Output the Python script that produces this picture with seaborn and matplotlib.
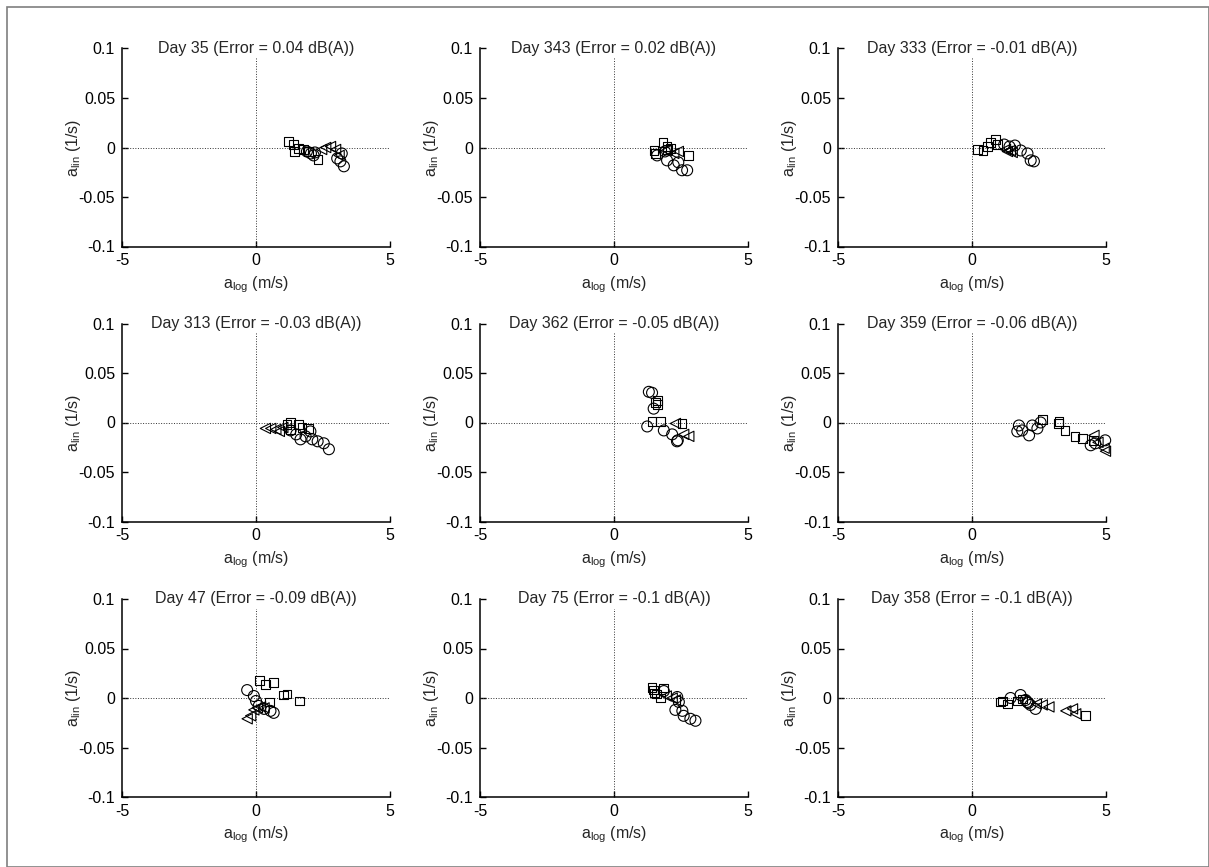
import matplotlib
matplotlib.use("Agg")
import matplotlib.pyplot as plt
import seaborn as sns
import pandas as pd
from matplotlib.patches import Rectangle

# ---------------- data ----------------
days = [35, 343, 333, 313, 362, 359, 47, 75, 358]
errors = ["0.04", "0.02", "-0.01", "-0.03", "-0.05", "-0.06", "-0.09", "-0.1", "-0.1"]

sq_x = [[1.22, 1.41, 1.44, 1.6, 1.78, 1.95, 2.31],
        [1.49, 1.55, 1.83, 1.98, 2.0, 2.1, 2.79],
        [0.2, 0.41, 0.57, 0.7, 0.88, 0.95],
        [1.16, 1.29, 1.3, 1.6, 1.72, 1.97],
        [1.61, 1.61, 1.55, 1.42, 1.74, 2.54],
        [2.62, 3.22, 3.25, 3.47, 3.84, 4.12, 4.52],
        [0.14, 0.35, 0.66, 1.04, 1.16, 1.63, 0.51],
        [1.42, 1.48, 1.6, 1.86, 1.74, 1.52],
        [1.07, 1.15, 1.32, 1.69, 1.87, 4.24]]
sq_y = [[0.006, 0.003, -0.004, -0.001, -0.002, -0.004, -0.012],
        [-0.003, -0.006, 0.005, 0.001, -0.002, -0.001, -0.008],
        [-0.002, -0.003, 0.001, 0.005, 0.008, 0.003],
        [-0.002, -0.007, 0.0, -0.002, -0.005, -0.006],
        [0.022, 0.018, 0.020, 0.001, 0.001, -0.001],
        [0.003, -0.001, 0.001, -0.008, -0.014, -0.016, -0.018],
        [0.018, 0.014, 0.016, 0.003, 0.004, -0.003, -0.004],
        [0.011, 0.008, 0.004, 0.010, 0.0, 0.005],
        [-0.004, -0.003, -0.006, -0.003, -0.001, -0.018]]

ci_x = [[1.9, 2.05, 2.15, 2.2, 3.03, 3.15, 3.2, 3.28],
        [1.61, 1.9, 1.98, 2.23, 2.4, 2.54, 2.73],
        [1.2, 1.4, 1.6, 1.82, 2.07, 2.19, 2.31],
        [1.29, 1.5, 1.66, 1.85, 2.03, 2.1, 2.3, 2.53, 2.72],
        [1.3, 1.42, 1.48, 1.24, 1.86, 2.17, 2.38, 2.35],
        [1.75, 1.69, 1.87, 2.13, 2.25, 2.44, 2.56, 4.43, 4.6, 4.97],
        [-0.33, -0.08, 0.0, 0.1, 0.3, 0.54, 0.66],
        [1.86, 2.36, 2.42, 2.29, 2.55, 2.6, 2.85, 3.04],
        [1.44, 1.81, 2.0, 2.06, 2.18, 2.37, 2.1]]
ci_y = [[-0.004, -0.006, -0.008, -0.005, -0.011, -0.014, -0.006, -0.019],
        [-0.008, -0.004, -0.013, -0.018, -0.015, -0.023, -0.023],
        [0.003, 0.001, 0.002, -0.003, -0.006, -0.013, -0.014],
        [-0.008, -0.012, -0.017, -0.014, -0.009, -0.017, -0.019, -0.021, -0.027],
        [0.031, 0.030, 0.014, -0.004, -0.008, -0.012, -0.018, -0.019],
        [-0.003, -0.009, -0.008, -0.013, -0.003, -0.006, 0.0, -0.023, -0.021, -0.018],
        [0.008, 0.002, -0.003, -0.008, -0.011, -0.013, -0.015],
        [0.007, 0.001, -0.004, -0.012, -0.013, -0.018, -0.021, -0.023],
        [0.0, 0.003, -0.002, -0.004, -0.007, -0.011, -0.005]]

tr_x = [[2.45, 2.6, 2.78, 2.97, 3.1],
        [1.95, 2.23, 2.4],
        [1.25, 1.32, 1.43, 1.5],
        [0.35, 0.55, 0.74, 0.87, 1.0],
        [2.29, 2.79, 2.6],
        [4.55, 4.7, 4.93, 4.98],
        [-0.33, -0.2, -0.08, 0.05, 0.17, 0.3],
        [1.95, 2.17, 2.29],
        [2.4, 2.62, 2.87, 3.5, 3.75, 3.87]]
tr_y = [[-0.002, 0.0, 0.001, -0.002, -0.008],
        [-0.003, -0.006, -0.004],
        [-0.002, -0.004, -0.003, -0.005],
        [-0.006, -0.006, -0.007, -0.009, -0.005],
        [-0.001, -0.014, -0.012],
        [-0.013, -0.020, -0.026, -0.029],
        [-0.021, -0.018, -0.012, -0.010, -0.009, -0.010],
        [0.002, 0.0, -0.002],
        [-0.006, -0.007, -0.009, -0.013, -0.011, -0.016]]

x_ticks = [-5, 0, 5]
x_ticklabels = ["-5", "0", "5"]
y_ticks = [-0.1, -0.05, 0, 0.05, 0.1]
y_ticklabels = ["-0.1", "-0.05", "0", "0.05", "0.1"]

# ---------------- style ----------------
sns.set_theme(style="white")
plt.rcParams["font.family"] = ["Liberation Sans", "DejaVu Sans"]
plt.rcParams["mathtext.fontset"] = "custom"
plt.rcParams["mathtext.rm"] = "Liberation Sans"

W, H = 1209, 867
fig = plt.figure(figsize=(W / 100, H / 100), dpi=100)
fig.patch.set_facecolor("white")

# figure frame
fig.patches.append(Rectangle((7 / W, 0.5 / H), (W - 7.5) / W, (H - 7.5) / H,
                             transform=fig.transFigure, fill=False,
                             edgecolor="#7f7f7f", linewidth=1.2))

col_left = [122, 480, 838]
row_top = [48.5, 323.5, 599]
aw, ah = 268, 198

fs = 11.5
for i in range(9):
    r, c = divmod(i, 3)
    ax = fig.add_axes([col_left[c] / W, 1 - (row_top[r] + ah) / H, aw / W, ah / H])
    ax.axhline(0, color="#333333", linestyle=":", linewidth=0.7, zorder=1)
    ax.axvline(0, color="#333333", linestyle=":", linewidth=0.7, zorder=1)

    common = dict(facecolor="none", edgecolor="black", linewidth=0.8, ax=ax,
                  legend=False, zorder=3, clip_on=False)
    sns.scatterplot(x=sq_x[i], y=sq_y[i], marker="s", s=40, **common)
    sns.scatterplot(x=ci_x[i], y=ci_y[i], marker="o", s=62, **common)
    sns.scatterplot(x=tr_x[i], y=tr_y[i], marker="<", s=55, **common)

    ax.set_xlim(-5, 5)
    ax.set_ylim(-0.1, 0.1)
    ax.set_xticks(x_ticks)
    ax.set_xticklabels(x_ticklabels)
    ax.set_yticks(y_ticks)
    ax.set_yticklabels(y_ticklabels)
    ax.tick_params(direction="in", length=4, width=1.0, labelsize=fs, pad=5,
                   colors="black", bottom=True, left=True)
    for s in ["top", "right"]:
        ax.spines[s].set_visible(False)
    for s in ["left", "bottom"]:
        ax.spines[s].set_color("black")
        ax.spines[s].set_linewidth(1.1)

    ax.set_xlabel(r"a$_{\mathregular{log}}$ (m/s)", fontsize=fs)
    ax.set_ylabel(r"a$_{\mathregular{lin}}$ (1/s)", fontsize=fs)
    ax.xaxis.set_label_coords(0.5, -0.14)
    ax.yaxis.set_label_coords(-0.145, 0.5)
    ax.text(0.5, 1.0, f"Day {days[i]} (Error = {errors[i]} dB(A))",
            transform=ax.transAxes, ha="center", va="center", fontsize=fs,
            zorder=5, bbox=dict(facecolor="white", edgecolor="none", pad=1.5))

fig.savefig("out.png", dpi=100, facecolor="white")
